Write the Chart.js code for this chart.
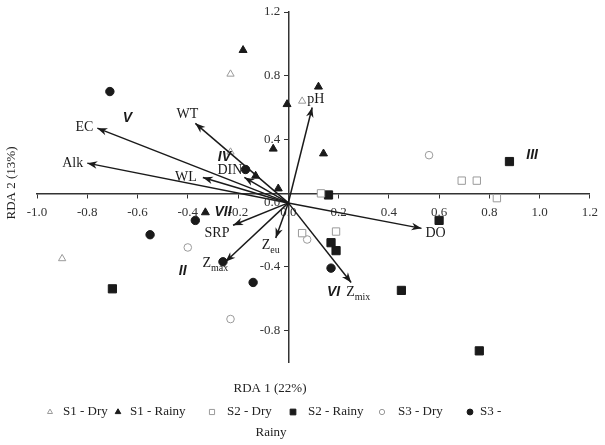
<!DOCTYPE html>
<html>
<head>
<meta charset="utf-8">
<script src="https://cdn.jsdelivr.net/npm/chart.js@4.4.1/dist/chart.umd.min.js"></script>
<style>
html, body { margin: 0; padding: 0; background: #fff; }
#wrap { width: 605px; height: 445px; }
</style>
</head>
<body>
<div id="wrap"><canvas id="canvas"></canvas></div>
<script>
// Sample scores [RDA 1, RDA 2]
const seriesNames = ['S1 - Dry', 'S1 - Rainy', 'S2 - Dry', 'S2 - Rainy', 'S3 - Dry', 'S3 - Rainy'];
const s1Dry = [[-0.23, 0.81], [-0.90, -0.35], [0.055, 0.64], [-0.23, 0.32]];
const s1Rainy = [[-0.18, 0.96], [-0.005, 0.62], [0.12, 0.73], [-0.06, 0.34], [0.14, 0.31], [-0.13, 0.17], [-0.33, -0.06], [-0.04, 0.09]];
const s2Dry = [[0.69, 0.14], [0.75, 0.14], [0.83, 0.03], [0.13, 0.06], [0.055, -0.19], [0.19, -0.18]];
const s2Rainy = [[0.88, 0.26], [0.16, 0.05], [-0.70, -0.54], [0.60, -0.11], [0.17, -0.25], [0.19, -0.30], [0.45, -0.55], [0.76, -0.93]];
const s3Dry = [[0.56, 0.30], [-0.40, -0.28], [-0.23, -0.73], [0.075, -0.23]];
const s3Rainy = [[-0.71, 0.70], [-0.17, 0.21], [-0.37, -0.11], [-0.55, -0.20], [-0.26, -0.37], [-0.14, -0.50], [0.17, -0.41]];

// Environmental variable vectors (arrow tips)
const varNames = ['EC', 'Alk', 'WT', 'WL', 'DIN', 'pH', 'DO', 'SRP', 'Z', 'Z', 'Z'];
const varSubs = ['', '', '', '', '', '', '', '', 'max', 'eu', 'mix'];
const varX = [-0.76, -0.80, -0.37, -0.34, -0.175, 0.095, 0.53, -0.22, -0.25, -0.05, 0.25];
const varY = [0.47, 0.25, 0.50, 0.16, 0.16, 0.60, -0.16, -0.14, -0.37, -0.22, -0.50];

// Group labels
const groupNames = ['V', 'IV', 'III', 'II', 'VII', 'VI'];
const groupX = [-0.64, -0.254, 0.97, -0.42, -0.26, 0.18];
const groupY = [0.535, 0.29, 0.30, -0.43, -0.06, -0.56];

// Axis ticks and titles
const xTicks = [-1.0, -0.8, -0.6, -0.4, -0.2, 0.0, 0.2, 0.4, 0.6, 0.8, 1.0, 1.2];
const yTicks = [-0.8, -0.4, 0.0, 0.4, 0.8, 1.2];
const xTitle = 'RDA 1 (22%)';
const yTitle = 'RDA 2 (13%)';

const serif = '"Liberation Serif", "Times New Roman", serif';
const sans = '"Liberation Sans", Arial, sans-serif';
const ink = '#1a1a1a';
const grey = '#9a9a9a';

const seriesData = [s1Dry, s1Rainy, s2Dry, s2Rainy, s3Dry, s3Rainy];
const seriesStyle = [
	{ pointStyle: 'triangle', radius: 4.2, fill: '#fff', stroke: grey },
	{ pointStyle: 'triangle', radius: 4.6, fill: ink, stroke: ink },
	{ pointStyle: 'rect', radius: 5.2, fill: '#fff', stroke: grey },
	{ pointStyle: 'rect', radius: 5.8, fill: ink, stroke: ink },
	{ pointStyle: 'circle', radius: 3.8, fill: '#fff', stroke: grey },
	{ pointStyle: 'circle', radius: 4.2, fill: ink, stroke: ink }
];

// label placement relative to arrow tip: [dx, dy, align]
const varLabelPos = [
	[-4, -1, 'right'], [-4, 0, 'right'], [-8, -9, 'center'], [-6, 0, 'right'],
	[-2, -7, 'right'], [-5, -8, 'left'], [4, 5, 'left'], [-16, 8, 'center'],
	[-23, 2, 'left'], [-14, 7, 'left'], [-5, 10, 'left']
];
const legendMarkerX = [50, 118, 212, 293, 382, 470];
const legendTextX = [63, 130, 227, 308, 398, 480];

const datasets = [];
varNames.forEach((name, i) => {
	datasets.push({
		label: name + varSubs[i],
		data: [{ x: 0, y: 0 }, { x: varX[i], y: varY[i] }],
		showLine: true,
		borderColor: ink,
		borderWidth: 1.5,
		pointRadius: 0
	});
});
seriesData.forEach((pts, i) => {
	const st = seriesStyle[i];
	datasets.push({
		label: seriesNames[i],
		data: pts.map(p => ({ x: p[0], y: p[1] })),
		showLine: false,
		pointStyle: st.pointStyle,
		pointRadius: st.radius,
		backgroundColor: st.fill,
		borderColor: st.stroke,
		pointBorderWidth: 1
	});
});

function drawRich(ctx, main, sub, x, y, align) {
	ctx.font = '14px ' + serif;
	const wMain = ctx.measureText(main).width;
	ctx.font = '10px ' + serif;
	const wSub = sub ? ctx.measureText(sub).width : 0;
	const total = wMain + wSub;
	let sx = x;
	if (align === 'right') sx = x - total;
	if (align === 'center') sx = x - total / 2;
	ctx.textAlign = 'left';
	ctx.textBaseline = 'middle';
	ctx.font = '14px ' + serif;
	ctx.fillText(main, sx, y);
	if (sub) {
		ctx.font = '10px ' + serif;
		ctx.fillText(sub, sx + wMain, y + 5);
	}
}

const overlay = {
	id: 'overlay',
	afterDatasetsDraw(chart) {
		const ctx = chart.ctx;
		const xs = chart.scales.x;
		const ys = chart.scales.y;
		const x0 = xs.getPixelForValue(0);
		const y0 = ys.getPixelForValue(0);
		ctx.save();

		// y tick labels, left of the vertical axis
		ctx.fillStyle = '#333';
		ctx.font = '13px ' + serif;
		ctx.textAlign = 'right';
		ctx.textBaseline = 'middle';
		ys.ticks.forEach(t => {
			ctx.fillText(t.value.toFixed(1), x0 - 8, ys.getPixelForValue(t.value));
		});

		// arrowheads and variable names
		ctx.fillStyle = ink;
		varNames.forEach((name, i) => {
			const tx = xs.getPixelForValue(varX[i]);
			const ty = ys.getPixelForValue(varY[i]);
			const a = Math.atan2(ty - y0, tx - x0);
			const c = Math.cos(a), s = Math.sin(a);
			ctx.beginPath();
			ctx.moveTo(tx, ty);
			ctx.lineTo(tx - 10 * c + 3.8 * s, ty - 10 * s - 3.8 * c);
			ctx.lineTo(tx - 7 * c, ty - 7 * s);
			ctx.lineTo(tx - 10 * c - 3.8 * s, ty - 10 * s + 3.8 * c);
			ctx.closePath();
			ctx.fill();
			const p = varLabelPos[i];
			drawRich(ctx, name, varSubs[i], tx + p[0], ty + p[1], p[2]);
		});

		// group numerals
		ctx.font = 'italic bold 14px ' + sans;
		ctx.textAlign = 'center';
		ctx.textBaseline = 'middle';
		groupNames.forEach((g, i) => {
			ctx.fillText(g, xs.getPixelForValue(groupX[i]), ys.getPixelForValue(groupY[i]));
		});

		// axis titles
		ctx.fillStyle = '#222';
		ctx.font = '13px ' + serif;
		ctx.fillText(xTitle, 270, 389);
		ctx.save();
		ctx.translate(12, 183);
		ctx.rotate(-Math.PI / 2);
		ctx.fillText(yTitle, 0, 0);
		ctx.restore();

		// legend
		const ly = 412;
		seriesNames.forEach((name, i) => {
			const st = seriesStyle[i];
			ctx.fillStyle = st.fill;
			ctx.strokeStyle = st.stroke;
			ctx.lineWidth = 1;
			Chart.helpers.drawPoint(ctx, { pointStyle: st.pointStyle, radius: st.radius * 0.7, rotation: 0, borderWidth: 1 }, legendMarkerX[i], ly);
			ctx.fillStyle = '#222';
			ctx.font = '13px ' + serif;
			ctx.textAlign = 'left';
			const w = ctx.measureText(name).width;
			if (legendTextX[i] + w > 515) {
				const cut = name.lastIndexOf(' ');
				ctx.fillText(name.slice(0, cut), legendTextX[i], ly);
				ctx.textAlign = 'center';
				ctx.fillText(name.slice(cut + 1), 271, ly + 21);
			} else {
				ctx.fillText(name, legendTextX[i], ly);
			}
		});
		ctx.restore();
	}
};

new Chart(document.getElementById('canvas'), {
	type: 'scatter',
	data: { datasets: datasets },
	options: {
		responsive: true,
		maintainAspectRatio: false,
		animation: false,
		layout: { padding: { left: 37, right: 13, top: 12, bottom: 83 } },
		plugins: { legend: { display: false }, tooltip: { enabled: false } },
		scales: {
			x: {
				type: 'linear',
				min: -1.0,
				max: 1.2,
				position: { y: 0.055 },
				afterFit: (s) => { s.height = 0; },
				afterBuildTicks: (s) => { s.ticks = xTicks.map(v => ({ value: v })); },
				grid: { drawOnChartArea: false, drawTicks: true, tickLength: 4, color: '#333' },
				border: { color: '#333', width: 1.5 },
				ticks: {
					font: { family: serif, size: 13 },
					color: '#333',
					padding: 7,
					maxRotation: 0,
					autoSkip: false,
					callback: (v) => v.toFixed(1)
				}
			},
			y: {
				type: 'linear',
				min: -1.0,
				max: 1.2,
				position: { x: 0 },
				afterFit: (s) => { s.width = 0; },
				afterBuildTicks: (s) => { s.ticks = yTicks.map(v => ({ value: v })); },
				grid: { drawOnChartArea: false, drawTicks: true, tickLength: 4, color: '#333' },
				border: { color: '#333', width: 1.5 },
				ticks: { display: false }
			}
		}
	},
	plugins: [overlay]
});
</script>
</body>
</html>
